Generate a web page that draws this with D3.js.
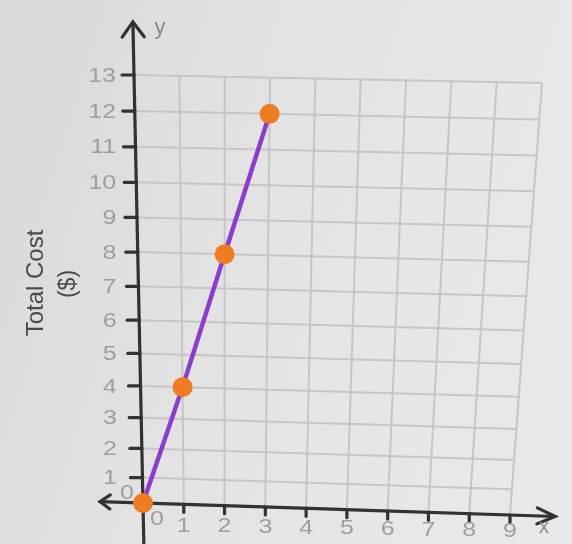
<!DOCTYPE html>
<html>
<head>
<meta charset="utf-8">
<script src="https://cdn.jsdelivr.net/npm/d3@7"></script>
<style>
  html, body { margin: 0; padding: 0; background: #e2e2e2; }
  svg { display: block; }
</style>
</head>
<body>
<svg id="chart" width="572" height="544"></svg>
<script>
// ---- data ----
const xTicks = [0, 1, 2, 3, 4, 5, 6, 7, 8, 9];
const yTicks = [0, 1, 2, 3, 4, 5, 6, 7, 8, 9, 10, 11, 12, 13];
const quantity = [0, 1, 2, 3];
const totalCost = [0, 4, 8, 12];
const yTitle = ["Total Cost", "($)"];

// ---- scales (unit space) ----
const x = d3.scaleLinear().domain([0, 9]).range([0, 1]);
const y = d3.scalePow().exponent(1.1).domain([0, 13]).range([0, 1]);

// photographed sheet: slight keystone, map unit square to the paper corners
const BL = [143, 503], BR = [510, 515], TL = [134, 75], TR = [542, 83];
const lerp = (a, b, k) => [a[0] + (b[0] - a[0]) * k, a[1] + (b[1] - a[1]) * k];
function P(u, t) { return lerp(lerp(BL, BR, u), lerp(TL, TR, u), t); }
const pt = (dx, dy) => P(x(dx), y(dy));

const svg = d3.select("#chart");

// background with light photo shading
const defs = svg.append("defs");
const grad = defs.append("linearGradient").attr("id", "bg").attr("x1", "0").attr("y1", "0").attr("x2", "1").attr("y2", "0.3");
grad.append("stop").attr("offset", "0").attr("stop-color", "#d8d8d8");
grad.append("stop").attr("offset", "0.5").attr("stop-color", "#e3e3e3");
grad.append("stop").attr("offset", "1").attr("stop-color", "#e8e8e8");
defs.append("filter").attr("id", "soft").append("feGaussianBlur").attr("stdDeviation", 0.6);

svg.append("rect").attr("width", 572).attr("height", 544).attr("fill", "url(#bg)");

const g = svg.append("g").attr("filter", "url(#soft)");

// grid
const gridG = g.append("g").attr("stroke", "#c6c6c6").attr("stroke-width", 2).attr("fill", "none");
xTicks.filter(v => v > 0).forEach(v => {
  const a = P(x(v), 0), b = P(x(v), 1);
  gridG.append("line").attr("x1", a[0]).attr("y1", a[1]).attr("x2", b[0]).attr("y2", b[1]);
});
yTicks.filter(v => v > 0).forEach(v => {
  const a = P(0, y(v)), b = P(1, y(v));
  gridG.append("line").attr("x1", a[0]).attr("y1", a[1]).attr("x2", b[0]).attr("y2", b[1]);
});

// axes
const axisCol = "#303030";
const axG = g.append("g").attr("stroke", axisCol).attr("stroke-width", 3.2).attr("fill", "none").attr("stroke-linecap", "round");
function arrow(tip, from, back, out) {
  const dx = tip[0] - from[0], dy = tip[1] - from[1];
  const L = Math.hypot(dx, dy), ux = dx / L, uy = dy / L;
  const bx = tip[0] - ux * back, by = tip[1] - uy * back;
  const w1 = [bx - uy * out, by + ux * out], w2 = [bx + uy * out, by - ux * out];
  axG.append("path").attr("d", `M${w1[0]},${w1[1]}L${tip[0]},${tip[1]}L${w2[0]},${w2[1]}`).attr("stroke-linejoin", "miter");
}
const yTop = P(0, 1.124), yBot = P(0, -0.11);
axG.append("line").attr("x1", yBot[0]).attr("y1", yBot[1]).attr("x2", yTop[0]).attr("y2", yTop[1]);
arrow(yTop, yBot, 15, 11);
const xLeft = P(-0.117, 0), xRight = P(1.123, 0);
axG.append("line").attr("x1", xLeft[0]).attr("y1", xLeft[1]).attr("x2", xRight[0]).attr("y2", xRight[1]);
arrow(xRight, xLeft, 18, 8);
arrow(xLeft, xRight, 10, 7);

// ticks
yTicks.filter(v => v > 0).forEach(v => {
  const p = pt(0, v);
  axG.append("line").attr("x1", p[0] - 12).attr("y1", p[1]).attr("x2", p[0]).attr("y2", p[1]);
});
xTicks.filter(v => v > 0).forEach(v => {
  const p = pt(v, 0);
  axG.append("line").attr("x1", p[0]).attr("y1", p[1]).attr("x2", p[0]).attr("y2", p[1] + 8);
});

// tick labels (slightly wide lettering, as on the sheet)
const font = "'Liberation Sans', Arial, sans-serif";
const lab = g.append("g").attr("font-family", font).attr("font-size", 20).attr("fill", "#9e9e9e");
function label(px, py, txt, anchor, baseline) {
  lab.append("text").attr("transform", `translate(${px},${py}) scale(1.25,1)`)
    .attr("text-anchor", anchor).attr("dominant-baseline", baseline || "auto").text(txt);
}
yTicks.forEach(v => {
  const p = pt(0, v), t = y(v);
  if (v === 0) label(p[0] - 9, p[1] - 9, v, "end", "middle");
  else label(p[0] - 26 + 8 * t, p[1], v, "end", "central");
});
xTicks.forEach(v => {
  const p = pt(v, 0), u = x(v);
  if (v === 0) label(p[0] + 14, p[1] + 22, v, "middle");
  else label(p[0], p[1] + 28 - 6 * u, v, "middle");
});

// axis letters
g.append("text").attr("x", 160).attr("y", 34).attr("font-family", font).attr("font-size", 22)
  .attr("fill", "#8a8a8a").attr("text-anchor", "middle").text("y");
g.append("text").attr("x", 544).attr("y", 533).attr("font-family", font).attr("font-size", 20)
  .attr("fill", "#8a8a8a").attr("text-anchor", "middle").text("x");

// y title
g.append("text").attr("transform", "translate(43,283) rotate(-90)").attr("font-family", font)
  .attr("font-size", 24).attr("fill", "#4a4a4a").attr("text-anchor", "middle").text(yTitle[0]);
g.append("text").attr("transform", "translate(75,284) rotate(-90)").attr("font-family", font)
  .attr("font-size", 23).attr("fill", "#4a4a4a").attr("text-anchor", "middle").text(yTitle[1]);

// data line + points
const pts = quantity.map((q, i) => pt(q, totalCost[i]));
g.append("path").datum(pts).attr("d", d3.line()).attr("fill", "none")
  .attr("stroke", "#8a3ccf").attr("stroke-width", 4.5).attr("stroke-linecap", "round");
g.append("g").selectAll("circle").data(pts).join("circle")
  .attr("cx", d => d[0]).attr("cy", d => d[1]).attr("r", 10).attr("fill", "#f07b24");
</script>
</body>
</html>
